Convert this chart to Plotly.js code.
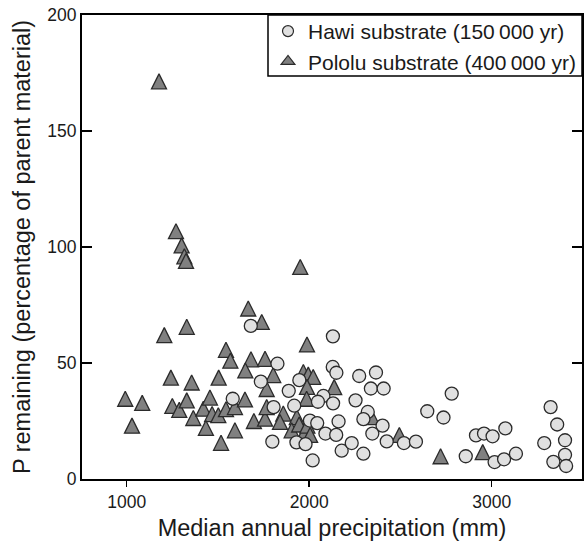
<!DOCTYPE html>
<html>
<head>
<meta charset="utf-8">
<script src="https://cdn.plot.ly/plotly-3.0.1.min.js"></script>
<style>html,body{margin:0;padding:0;background:#fff;}#chart{width:584px;height:545px;}</style>
</head>
<body>
<div id="chart"></div>
<script>
// Hawi substrate (150 000 yr): median annual precipitation (mm), P remaining (%)
var hawiX = [1680,1826,1735,1946,2130,2129,2149,1888,2078,2048,2131,1581,1805,1918,2004,2044,2161,2089,2148,1798,1930,1980,2019,2178,2233,2274,2366,2338,2408,2254,2321,2297,2402,2346,2297,2425,2519,2585,2647,2736,2781,2858,2914,2958,3005,3075,3016,3068,3133,3323,3359,3288,3402,3402,3338,3408];
var hawiY = [66,49.7,42,42.6,61.5,48.3,45.8,38,35.8,33.3,32.6,34.6,31,31.6,25.2,24.1,24.8,19.6,19,16.1,15.8,15,8,12.2,15.5,44.4,45.9,39,39,33.9,28.9,25.8,23,19.6,10.9,16.2,15.5,16.1,29.2,26.5,36.8,9.8,18.8,19.6,18.4,21.8,7.3,8.5,10.9,31,23.5,15.5,16.7,10.4,7.4,5.6];

// Pololu substrate (400 000 yr)
var pololuX = [1177,1270,1301,1316,1325,1951,1666,1740,1206,1329,1988,1544,1568,1681,1758,1650,1242,1356,1504,1803,1767,1968,1995,2022,1988,1986,2137,992,1085,1029,1250,1288,1329,1365,1420,1456,1468,1502,1434,1544,1593,1648,1593,1517,1697,1758,1767,1858,1840,1932,1904,1977,2342,2494,2720,2951,1945,1990,2005];
var pololuY = [171.4,106.8,100.7,96,94,91.4,73.5,67.7,62,65.6,58,55.7,51,51.6,51.8,46.8,43.7,41.6,43.7,44.8,38.8,46.1,45,44,39.7,34.6,39.6,34.6,32.8,23,31.5,29.8,33.9,26.3,30.3,35.1,28,27.5,22,30.1,31,34.3,21,15.6,25,26,31,28.2,24.6,26.7,21,20.3,26.7,19,9.8,11.6,23.5,23,19];

var seriesNames = ['Hawi substrate (150\u2009000 yr)', 'Pololu substrate (400\u2009000 yr)'];
var xTicks = [1000, 2000, 3000];
var yTicks = [0, 50, 100, 150, 200];

var FONT = 'Liberation Sans, Arial, Helvetica, sans-serif';
var triSize = 15;

var traces = [
  { // Pololu triangles (drawn first, beneath circles)
    type: 'scatter', mode: 'markers', x: pololuX, y: pololuY, showlegend: false, hoverinfo: 'skip',
    marker: { symbol: 'arrow-down', angle: 180, standoff: triSize / 2, size: triSize,
              color: '#808080', line: { color: '#2b2b2b', width: 1.3 } }
  },
  { // Hawi circles
    type: 'scatter', mode: 'markers', x: hawiX, y: hawiY, showlegend: false, hoverinfo: 'skip',
    marker: { symbol: 'circle', size: 13, color: '#e0e0e0', line: { color: '#2b2b2b', width: 1.3 } }
  },
  { // legend entries
    type: 'scatter', mode: 'markers', x: [null], y: [null], name: seriesNames[0],
    marker: { symbol: 'circle', size: 11, color: '#e0e0e0', line: { color: '#2b2b2b', width: 1.2 } }
  },
  {
    type: 'scatter', mode: 'markers', x: [null], y: [null], name: seriesNames[1],
    marker: { symbol: 'triangle-up', size: 12, color: '#808080', line: { color: '#2b2b2b', width: 1.2 } }
  }
];

var layout = {
  width: 584, height: 545,
  margin: { l: 82, r: 2, t: 15, b: 66, pad: 0 },
  paper_bgcolor: '#ffffff', plot_bgcolor: '#ffffff',
  font: { family: FONT, color: '#1a1a1a', size: 17 },
  showlegend: true,
  legend: {
    x: 1, xanchor: 'right', y: 1.0087, yanchor: 'top',
    bgcolor: 'rgba(0,0,0,0)', borderwidth: 0,
    font: { family: FONT, size: 21, color: '#1a1a1a' },
    tracegroupgap: 0
  },
  shapes: [{
    type: 'rect', xref: 'paper', yref: 'paper', layer: 'above',
    x0: 0.372, x1: 1, y0: 0.8685, y1: 1,
    fillcolor: '#ffffff', line: { color: '#000', width: 1.5 }
  }],
  xaxis: {
    range: [755, 3495], tickvals: xTicks, ticktext: xTicks.map(String),
    showgrid: false, zeroline: false,
    showline: true, linecolor: '#000', linewidth: 2, mirror: true,
    ticks: 'outside', ticklen: 6, tickwidth: 1.5, tickcolor: '#000',
    tickfont: { family: FONT, size: 17.5, color: '#1a1a1a' },
    title: { text: 'Median annual precipitation (mm)', font: { family: FONT, size: 23.5, color: '#1a1a1a' }, standoff: 9 }
  },
  yaxis: {
    range: [0, 200], tickvals: yTicks, ticktext: yTicks.map(String),
    showgrid: false, zeroline: false,
    showline: true, linecolor: '#000', linewidth: 2, mirror: 'ticks',
    ticks: 'inside', ticklen: 10, tickwidth: 1.5, tickcolor: '#000',
    tickfont: { family: FONT, size: 17.5, color: '#1a1a1a' },
    title: { text: 'P remaining (percentage of parent material)', font: { family: FONT, size: 23.5, color: '#1a1a1a' }, standoff: 10 }
  }
};

Plotly.newPlot('chart', traces, layout, { staticPlot: true, displayModeBar: false });
</script>
</body>
</html>
